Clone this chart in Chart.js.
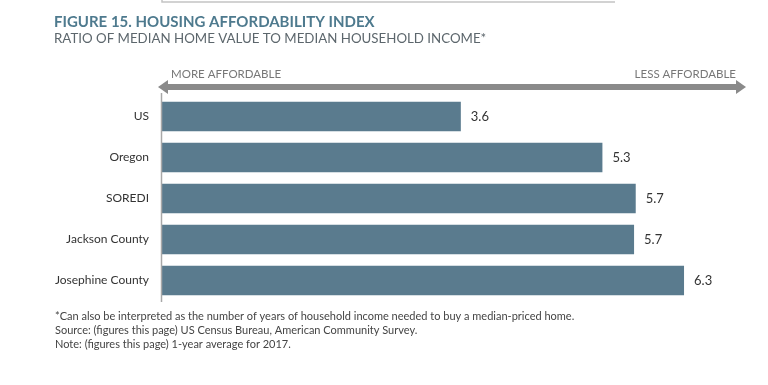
<!DOCTYPE html>
<html>
<head>
<meta charset="utf-8">
<script src="https://cdn.jsdelivr.net/npm/chart.js@4/dist/chart.umd.min.js"></script>
<style>
  html, body { margin: 0; padding: 0; background: #ffffff; }
  #wrap { position: relative; width: 768px; height: 385px; }
  canvas { display: block; }
</style>
</head>
<body>
<div id="wrap"><canvas id="c" width="768" height="385"></canvas></div>
<script>
// ---- Data ----
const categories = ["US", "Oregon", "SOREDI", "Jackson County", "Josephine County"];
const ratioValues = [3.6, 5.3, 5.7, 5.68, 6.28];
const titleText = "FIGURE 15. HOUSING AFFORDABILITY INDEX";
const subtitleText = "RATIO OF MEDIAN HOME VALUE TO MEDIAN HOUSEHOLD INCOME*";
const arrowLabels = ["MORE AFFORDABLE", "LESS AFFORDABLE"];
const footnotes = [
  "*Can also be interpreted as the number of years of household income needed to buy a median-priced home.",
  "Source: (figures this page) US Census Bureau, American Community Survey.",
  "Note: (figures this page) 1-year average for 2017."
];

const FONT = "Lato, 'Open Sans', sans-serif";

const decorPlugin = {
  id: 'decor',
  afterDraw(chart) {
    const ctx = chart.ctx;
    const area = chart.chartArea;
    ctx.save();
    // remnant line at top
    ctx.strokeStyle = '#c4c4c4';
    ctx.lineWidth = 1.5;
    ctx.beginPath();
    ctx.moveTo(162, 0);
    ctx.lineTo(162, 2);
    ctx.lineTo(615, 2);
    ctx.stroke();

    // axis line
    ctx.strokeStyle = '#a8a8a8';
    ctx.lineWidth = 1.5;
    ctx.beginPath();
    ctx.moveTo(area.left + 0.5, 93);
    ctx.lineTo(area.left + 0.5, area.bottom + 1);
    ctx.stroke();

    // double arrow
    const y = 87, l = 158, r = 746;
    ctx.fillStyle = '#8a8a8a';
    ctx.fillRect(l + 8, y - 3, (r - 8) - (l + 8), 6);
    ctx.beginPath();
    ctx.moveTo(l, y); ctx.lineTo(l + 10, y - 7); ctx.lineTo(l + 10, y + 7); ctx.closePath();
    ctx.fill();
    ctx.beginPath();
    ctx.moveTo(r, y); ctx.lineTo(r - 10, y - 7); ctx.lineTo(r - 10, y + 7); ctx.closePath();
    ctx.fill();

    // arrow labels
    ctx.fillStyle = '#777777';
    ctx.font = "11.5px " + FONT;
    ctx.textBaseline = 'middle';
    ctx.textAlign = 'left';
    ctx.fillText(arrowLabels[0], 171, 74);
    ctx.textAlign = 'right';
    ctx.fillText(arrowLabels[1], 736, 74);

    // footnotes
    ctx.fillStyle = '#444444';
    ctx.font = "11px " + FONT;
    ctx.textAlign = 'left';
    const fy = [316, 330, 344];
    footnotes.forEach((t, i) => ctx.fillText(t, 55, fy[i]));
    ctx.restore();
  },
  afterDatasetsDraw(chart) {
    const ctx = chart.ctx;
    const meta = chart.getDatasetMeta(0);
    ctx.save();
    ctx.fillStyle = '#333333';
    ctx.font = "13px " + FONT;
    ctx.textBaseline = 'middle';
    ctx.textAlign = 'left';
    meta.data.forEach((bar, i) => {
      ctx.fillText(ratioValues[i].toFixed(1), bar.x + 10, bar.y);
    });
    ctx.restore();
  }
};

new Chart(document.getElementById('c'), {
  type: 'bar',
  data: {
    labels: categories,
    datasets: [{
      data: ratioValues,
      backgroundColor: '#5a7b8e',
      borderWidth: 0,
      barPercentage: 0.72,
      categoryPercentage: 1.0
    }]
  },
  options: {
    indexAxis: 'y',
    responsive: false,
    animation: false,
    events: [],
    layout: { padding: { left: 54, right: 24, top: 0, bottom: 84 } },
    plugins: {
      legend: { display: false },
      tooltip: { enabled: false },
      title: {
        display: true,
        text: titleText,
        align: 'start',
        color: '#4e7a8e',
        font: { family: FONT, size: 15, weight: 'bold', lineHeight: 1.2 },
        padding: { top: 13, bottom: 0 }
      },
      subtitle: {
        display: true,
        text: subtitleText,
        align: 'start',
        color: '#5c666c',
        font: { family: FONT, size: 13.3, weight: 'normal', lineHeight: 1.2 },
        padding: { top: 0, bottom: 49 }
      }
    },
    scales: {
      x: {
        display: false,
        min: 0,
        max: 7
      },
      y: {
        afterFit(scale) { scale.width = 107; },
        grid: { display: false, drawTicks: false },
        border: { display: false },
        ticks: {
          color: '#333333',
          padding: 12,
          font: { family: FONT, size: 12 }
        }
      }
    }
  },
  plugins: [decorPlugin]
});
</script>
</body>
</html>
